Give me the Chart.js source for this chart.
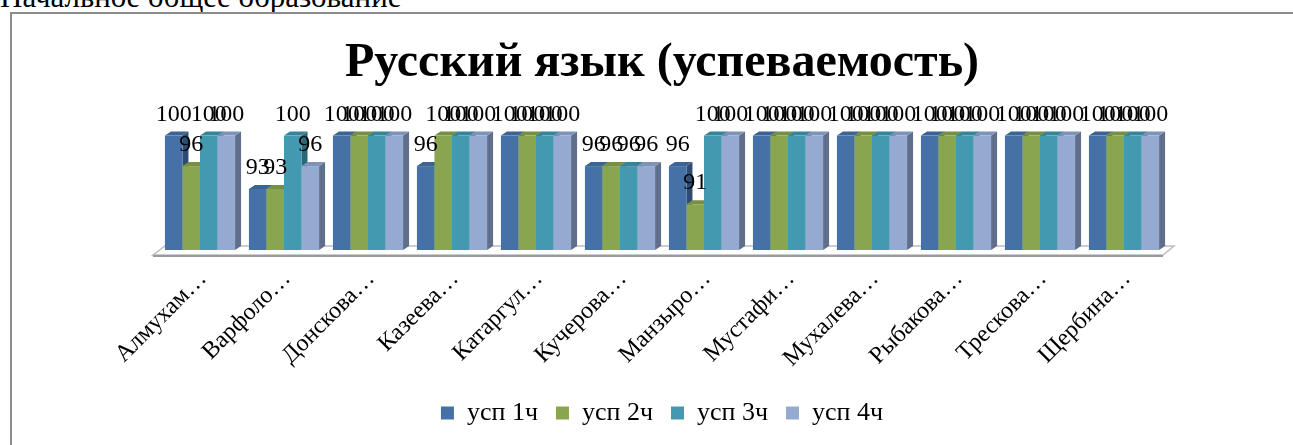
<!DOCTYPE html>
<html lang="ru">
<head>
<meta charset="utf-8">
<title>Русский язык (успеваемость)</title>
<script src="https://cdn.jsdelivr.net/npm/chart.js@4"></script>
<style>
html, body { margin: 0; padding: 0; background: #fff; overflow: hidden; }
#heading { position: absolute; left: 0; top: -21px; font: 31px "Liberation Serif", serif; white-space: nowrap; color: #000; }
#frame { position: absolute; left: 10px; top: 12px; width: 1320px; height: 500px; border-left: 2px solid #8c8c8c; border-top: 2px solid #8c8c8c; }
#wrap { position: absolute; left: 0; top: 0; width: 1293px; height: 445px; }
</style>
</head>
<body>
<div id="heading">Начальное общее образование</div>
<div id="frame"></div>
<div id="wrap"><canvas id="barChart"></canvas></div>
<script>
var students = ['Алмухам…', 'Варфоло…', 'Донскова…', 'Казеева…', 'Катаргул…', 'Кучерова…',
                'Манзыро…', 'Мустафи…', 'Мухалева…', 'Рыбакова…', 'Трескова…', 'Щербина…'];
var usp1 = [100, 93, 100, 96, 100, 96, 96, 100, 100, 100, 100, 100];
var usp2 = [96, 93, 100, 100, 100, 96, 91, 100, 100, 100, 100, 100];
var usp3 = [100, 100, 100, 100, 100, 96, 100, 100, 100, 100, 100, 100];
var usp4 = [100, 96, 100, 100, 100, 96, 100, 100, 100, 100, 100, 100];
var seriesNames = ['усп 1ч', 'усп 2ч', 'усп 3ч', 'усп 4ч'];

var frontColors = ['#4571a7', '#8aa54f', '#4299b0', '#94aad1'];
var topColors = ['#3b6394', '#778f42', '#37849a', '#7f93b6'];
var sideColors = ['#2c4c74', '#5d7131', '#296879', '#5f6e8a'];

var dx = 6, dy = 4;

// draws the Excel-like 3D bars and floor instead of the flat bars
var bars3d = {
    id: 'bars3d',
    beforeDatasetsDraw: function(chart) {
        var ctx = chart.ctx;
        var area = chart.chartArea;
        var base = area.bottom;

        ctx.save();
        ctx.beginPath();
        ctx.moveTo(area.left - 5, base + 5);
        ctx.lineTo(area.right - 3, base + 5);
        ctx.lineTo(area.right + 8, base - 4);
        ctx.lineTo(area.left + 7, base - 4);
        ctx.closePath();
        ctx.fillStyle = '#ffffff';
        ctx.fill();
        ctx.strokeStyle = '#bdbdbd';
        ctx.lineWidth = 1.5;
        ctx.stroke();
        ctx.beginPath();
        ctx.moveTo(area.left - 5, base + 6);
        ctx.lineTo(area.right - 3, base + 6);
        ctx.strokeStyle = '#9a9a9a';
        ctx.lineWidth = 2;
        ctx.stroke();

        for (var i = 0; i < students.length; i++) {
            for (var d = 0; d < chart.data.datasets.length; d++) {
                var el = chart.getDatasetMeta(d).data[i];
                var x0 = el.x - el.width / 2, x1 = el.x + el.width / 2;
                var y = el.y, b = base;

                ctx.fillStyle = sideColors[d];
                ctx.beginPath();
                ctx.moveTo(x1, y);
                ctx.lineTo(x1 + dx, y - dy);
                ctx.lineTo(x1 + dx, b - dy);
                ctx.lineTo(x1, b);
                ctx.closePath();
                ctx.fill();

                ctx.fillStyle = topColors[d];
                ctx.beginPath();
                ctx.moveTo(x0, y);
                ctx.lineTo(x1, y);
                ctx.lineTo(x1 + dx, y - dy);
                ctx.lineTo(x0 + dx, y - dy);
                ctx.closePath();
                ctx.fill();

                ctx.fillStyle = frontColors[d];
                ctx.fillRect(x0, y, x1 - x0, b - y);
            }
        }
        ctx.restore();
        return false;
    },
    afterDraw: function(chart) {
        var ctx = chart.ctx;
        ctx.save();
        ctx.font = '24px "Liberation Serif", serif';
        ctx.fillStyle = '#000';
        ctx.textAlign = 'center';
        ctx.textBaseline = 'alphabetic';
        chart.data.datasets.forEach(function(ds, d) {
            chart.getDatasetMeta(d).data.forEach(function(el, i) {
                ctx.fillText(String(ds.data[i]), el.x, el.y - 15);
            });
        });
        ctx.restore();
    }
};

Chart.defaults.font.family = '"Liberation Serif", "Times New Roman", serif';
Chart.defaults.color = '#000';

var ctx = document.getElementById('barChart').getContext('2d');

var myChart = new Chart(ctx, {
    type: 'bar',
    data: {
        labels: students,
        datasets: [usp1, usp2, usp3, usp4].map(function(values, k) {
            return {
                label: seriesNames[k],
                data: values,
                backgroundColor: frontColors[k],
                borderWidth: 0
            };
        })
    },
    options: {
        responsive: true,
        maintainAspectRatio: false,
        animation: false,
        categoryPercentage: 0.835,
        barPercentage: 1,
        layout: {
            padding: { top: 10, left: 158, right: 127, bottom: 9 }
        },
        plugins: {
            title: {
                display: true,
                text: 'Русский язык (успеваемость)',
                font: { size: 48, weight: 'bold' },
                padding: { top: 25, bottom: 43 }
            },
            legend: {
                position: 'bottom',
                labels: {
                    boxWidth: 13,
                    boxHeight: 13,
                    padding: 18,
                    font: { size: 26 }
                }
            },
            tooltip: { enabled: false }
        },
        scales: {
            x: {
                grid: { display: false },
                border: { display: false },
                ticks: {
                    autoSkip: false,
                    maxRotation: 45,
                    minRotation: 45,
                    padding: 7,
                    labelOffset: 3,
                    font: { size: 24 }
                },
                afterFit: function(scale) { scale.height = 132; }
            },
            y: {
                display: false,
                min: 85,
                max: 100
            }
        }
    },
    plugins: [bars3d]
});
</script>
</body>
</html>
